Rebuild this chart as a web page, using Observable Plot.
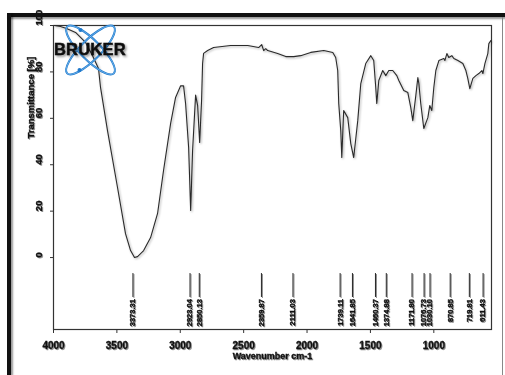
<!DOCTYPE html>
<html><head><meta charset="utf-8">
<script src="https://cdn.jsdelivr.net/npm/d3@7"></script>
<script src="https://cdn.jsdelivr.net/npm/@observablehq/plot@0.6"></script>
<style>
html,body{margin:0;padding:0;background:#fff;}
#wrap{position:relative;width:505px;height:375px;overflow:hidden;background:#fff;}
#wrap svg.chart{position:absolute;left:0;top:0;}
svg.chart g[aria-label="line"]{filter:drop-shadow(1px 1.5px 0.8px rgba(0,0,0,0.35));}
svg.chart g[aria-label="frame"]{filter:drop-shadow(1.5px 1.5px 1px rgba(0,0,0,0.45));}
svg.chart g[aria-label="text"], svg.chart g[aria-label="x-axis tick label"], svg.chart g[aria-label="rule"]{filter:drop-shadow(1px 1px 0.7px rgba(0,0,0,0.45));}
svg.chart g[aria-label="text"] text, svg.chart g[aria-label="x-axis tick label"] text{stroke:#111;stroke-width:0.35px;}
.bar{position:absolute;background:#111;}
#logo{position:absolute;left:50px;top:22px;}
</style>
</head><body>
<div id="wrap">
  <div class="bar" style="left:7px;top:13px;width:498px;height:4px;box-shadow:1px 2px 2px rgba(0,0,0,0.4)"></div>
  <div class="bar" style="left:7px;top:13px;width:4px;height:362px;box-shadow:2px 1px 2px rgba(0,0,0,0.4)"></div>
  <div class="bar" style="left:502px;top:17px;width:1px;height:358px;background:#888"></div>
</div>
<script>
// Spectrum (wavenumber cm-1, transmittance %)
const wavenumber = [3992,3945,3897,3826,3747,3692,3645,3629,3574,3495,3432,3392,3361,3337,3289,3234,3179,3132,3076,3037,2997,2974,2958,2934,2918,2903,2879,2863,2847,2832,2824,2816,2784,2737,2603,2468,2382,2358,2342,2326,2310,2232,2168,2105,2050,1971,1868,1797,1774,1758,1750,1734,1726,1711,1679,1655,1632,1600,1576,1537,1497,1474,1458,1450,1434,1403,1379,1355,1324,1292,1276,1237,1205,1182,1166,1142,1126,1118,1103,1079,1047,1032,1016,1000,984,960,921,913,897,882,858,842,810,771,747,732,716,692,668,645,621,613,597,574,566,550];
const transmittance = [100,99.6,98.7,97,92.7,87,81.5,73.3,54.7,30.2,10.3,3,0,0.4,3,8.6,19,37.5,57.8,69,74,74,66.4,47.4,20.3,46,70,65.5,49.6,67.7,83.6,88,89.2,90.5,91.4,91.4,90.5,91.8,89.2,90,89.2,87.9,86.6,86.6,87,88.4,89.2,88.4,86.2,80.6,66.4,54.7,43.1,63.4,60.3,49.1,43.1,59,75,83.6,87,84.9,73.3,66.4,76.3,80.6,78.4,80.6,80.6,78.4,76.3,72,71.1,64.7,59,69.8,77.6,75,66.4,55.6,60.3,65.5,63.4,73.3,80.6,84.9,85.8,84.9,87.9,86.2,87,85.8,84.9,83.6,80.6,77.2,72.8,77.2,78.4,79.3,80.6,79.3,83.6,87.9,92.2,93.5];

// Peak picks
const peakWn = [3373.31,2923.04,2850.13,2359.87,2111.03,1739.11,1641.85,1460.37,1374.88,1171.80,1076.73,1030.10,870.85,719.81,611.43];
const peakLabels = ["3373.31","2923.04","2850.13","2359.87","2111.03","1739.11","1641.85","1460.37","1374.88","1171.80","1076.73","1030.10","870.85","719.81","611.43"];

const xTicks = [4000,3500,3000,2500,2000,1500,1000];
const yTicks = [0,20,40,60,80,100];
const xLabel = "Wavenumber cm-1";
const yLabel = "Transmittance [%]";

const spectrum = wavenumber.map((w,i)=>({w, t: transmittance[i]}));
const font = "'Liberation Sans', Arial, sans-serif";

const chart = Plot.plot({
  width: 505, height: 375,
  marginLeft: 53, marginRight: 14, marginTop: 25, marginBottom: 46,
  className: "chart",
  style: {fontFamily: font, background: "transparent", color: "#111"},
  x: {domain: [4000, 545], label: null},
  y: {domain: [-31, 100], label: null},
  marks: [
    Plot.frame({stroke: "#333", strokeWidth: 1.2}),
    Plot.axisY({ticks: yTicks, tickSize: 3, tickFormat: () => "", stroke: "#333"}),
    Plot.text(yTicks, {y: d => d, text: d => String(d), frameAnchor: "left", dx: -15, rotate: -90, fontSize: 9.5, fontWeight: "bold", fill: "#111"}),
    Plot.axisX({ticks: xTicks, tickSize: 4, tickPadding: 8, tickFormat: d => String(d), fontSize: 10, fontWeight: "bold", stroke: "#333", fill: "#111"}),
    Plot.line(spectrum, {x: "w", y: "t", stroke: "#2a2a2a", strokeWidth: 1.1, curve: "linear"}),
    Plot.ruleX(peakWn, {x: d => d, y1: -6.9, y2: -17.2, stroke: "#222", strokeWidth: 1}),
    Plot.text(peakWn, {x: d => d, y: -17.9, text: (d, i) => peakLabels[i], rotate: -90, textAnchor: "end", fontSize: 7.5, fontWeight: "bold", fill: "#111"}),
    Plot.text([xLabel], {frameAnchor: "bottom", dy: 29, text: d => d, fontSize: 9, fontWeight: "bold", letterSpacing: "-0.4px", fill: "#111"}),
    Plot.text([yLabel], {frameAnchor: "top-left", dx: -26, dy: 113, text: d => d, rotate: -90, fontSize: 9.5, fontWeight: "bold", fill: "#111"})
  ]
});
const wrap = document.getElementById("wrap");
wrap.insertBefore(chart, wrap.firstChild);

// Logo overlay
const ns = "http://www.w3.org/2000/svg";
const logo = document.createElementNS(ns, "svg");
logo.setAttribute("id", "logo");
logo.setAttribute("width", "90");
logo.setAttribute("height", "60");
logo.innerHTML = `
<defs><filter id="ls" x="-20%" y="-20%" width="140%" height="140%"><feDropShadow dx="1.5" dy="1.5" stdDeviation="1" flood-color="#000" flood-opacity="0.45"/></filter></defs>
<g transform="translate(40.5,28)" fill="none" stroke="#1e78cc" stroke-width="2">
  <ellipse rx="33" ry="10" transform="rotate(45)"/>
  <ellipse rx="33" ry="10" transform="rotate(-45)"/>
  <ellipse rx="33" ry="10" transform="rotate(45)" stroke="#7fc0f0" stroke-width="0.7"/>
  <ellipse rx="33" ry="10" transform="rotate(-45)" stroke="#7fc0f0" stroke-width="0.7"/>
  <circle cx="-10" cy="-20" r="2" fill="#1e78cc" stroke="none"/>
  <circle cx="-11" cy="20" r="2" fill="#1e78cc" stroke="none"/>
</g>
<text x="4" y="33" font-family="'Liberation Sans', Arial, sans-serif" font-weight="bold" font-size="16.5" fill="#111" stroke="#111" stroke-width="0.5" filter="url(#ls)" letter-spacing="0.2">BRUKER</text>`;
wrap.appendChild(logo);
</script>
</body></html>
